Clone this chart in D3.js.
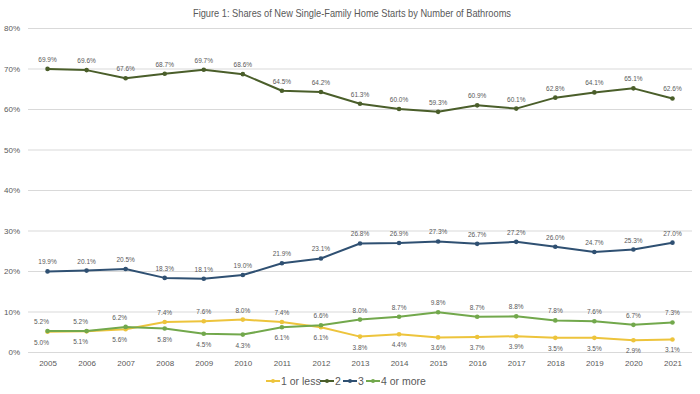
<!DOCTYPE html>
<html>
<head>
<meta charset="utf-8">
<script src="https://cdn.jsdelivr.net/npm/d3@7"></script>
<style>
  body { margin: 0; background: #fff; }
  svg text { font-family: "Liberation Sans Narrow", "Liberation Sans", Arial, sans-serif; fill: #595959; }
</style>
</head>
<body>
<svg id="chart" width="700" height="394"></svg>
<script>
// data
const years = ["2005","2006","2007","2008","2009","2010","2011","2012","2013","2014","2015","2016","2017","2018","2019","2020","2021"];
const oneOrLess = [5.0, 5.1, 5.6, 7.4, 7.6, 8.0, 7.4, 6.1, 3.8, 4.4, 3.6, 3.7, 3.9, 3.5, 3.5, 2.9, 3.1];
const two       = [69.9, 69.6, 67.6, 68.7, 69.7, 68.6, 64.5, 64.2, 61.3, 60.0, 59.3, 60.9, 60.1, 62.8, 64.1, 65.1, 62.6];
const three     = [19.9, 20.1, 20.5, 18.3, 18.1, 19.0, 21.9, 23.1, 26.8, 26.9, 27.3, 26.7, 27.2, 26.0, 24.7, 25.3, 27.0];
const fourPlus  = [5.2, 5.2, 6.2, 5.8, 4.5, 4.3, 6.1, 6.6, 8.0, 8.7, 9.8, 8.7, 8.8, 7.8, 7.6, 6.7, 7.3];
const yTicks = [0, 10, 20, 30, 40, 50, 60, 70, 80];
const seriesNames = ["1 or less", "2", "3", "4 or more"];
const title = "Figure 1: Shares of New Single-Family Home Starts by Number of Bathrooms";

const colors = ["#EDC43C", "#4A5E2A", "#2F5072", "#72A84C"];
const seriesVals = [oneOrLess, two, three, fourPlus];

const svg = d3.select("#chart");
const plotL = 28, plotR = 692, plotT = 28, plotB = 352;

const x = d3.scalePoint().domain(years).range([plotL, plotR]).padding(0.5);
const y = d3.scaleLinear().domain([0, 80]).range([plotB, plotT]);

// title
svg.append("text")
  .attr("x", 352).attr("y", 17)
  .attr("text-anchor", "middle")
  .attr("textLength", 318)
  .attr("lengthAdjust", "spacingAndGlyphs")
  .style("font-size", "11px")
  .text(title);

// grid
svg.append("g").selectAll("line").data(yTicks).join("line")
  .attr("x1", plotL).attr("x2", plotR)
  .attr("y1", d => y(d) + 0.5).attr("y2", d => y(d) + 0.5)
  .attr("stroke", "#D9D9D9").attr("stroke-width", 1);

// y axis
const yAxis = d3.axisLeft(y).tickValues(yTicks).tickFormat(d => d + "%").tickSize(0).tickPadding(8);
const gy = svg.append("g").attr("transform", `translate(${plotL},0)`).call(yAxis);
gy.select(".domain").remove();
gy.selectAll("text").style("font-size", "8px").style("fill", "#595959").style("font-family", null);

// x axis
const xAxis = d3.axisBottom(x).tickSize(0).tickPadding(8);
const gx = svg.append("g").attr("transform", `translate(0,${plotB})`).call(xAxis);
gx.select(".domain").remove();
gx.selectAll("text").style("font-size", "8px").style("fill", "#595959").style("font-family", null);

// lines
const line = d3.line().x((d, i) => x(years[i])).y(d => y(d));
seriesVals.forEach((vals, s) => {
  const g = svg.append("g");
  g.append("path").datum(vals)
    .attr("d", line)
    .attr("fill", "none")
    .attr("stroke", colors[s])
    .attr("stroke-width", 2)
    .attr("stroke-linejoin", "round");
  g.selectAll("circle").data(vals).join("circle")
    .attr("cx", (d, i) => x(years[i]))
    .attr("cy", d => y(d))
    .attr("r", 2.3)
    .attr("fill", colors[s]);
});

// data labels: higher of the two small series goes above, lower below
function labelPos(s, i) {
  if (s === 1 || s === 2) return -1;
  const other = s === 0 ? fourPlus[i] : oneOrLess[i];
  const me = seriesVals[s][i];
  return me >= other ? -1 : 1;
}
seriesVals.forEach((vals, s) => {
  svg.append("g").selectAll("text").data(vals).join("text")
    .attr("x", (d, i) => x(years[i]) - (i < 3 && (s === 0 || s === 3) ? 6 : 0))
    .attr("y", (d, i) => {
      const dir = labelPos(s, i);
      return y(d) + (dir < 0 ? -7 : 13);
    })
    .attr("text-anchor", "middle")
    .style("font-size", "6.5px")
    .text(d => d.toFixed(1) + "%");
});

// legend
const legendX = [266, 320, 343, 366];
const lg = svg.append("g").attr("transform", "translate(0,381)");
seriesNames.forEach((name, s) => {
  const item = lg.append("g").attr("transform", `translate(${legendX[s]},0)`);
  item.append("line").attr("x1", 0).attr("x2", 14).attr("y1", 0).attr("y2", 0)
    .attr("stroke", colors[s]).attr("stroke-width", 2);
  item.append("circle").attr("cx", 7).attr("cy", 0).attr("r", 2).attr("fill", colors[s]);
  item.append("text").attr("x", 15).attr("y", 3.5)
    .style("font-size", "10.5px")
    .text(name);
});
</script>
</body>
</html>
